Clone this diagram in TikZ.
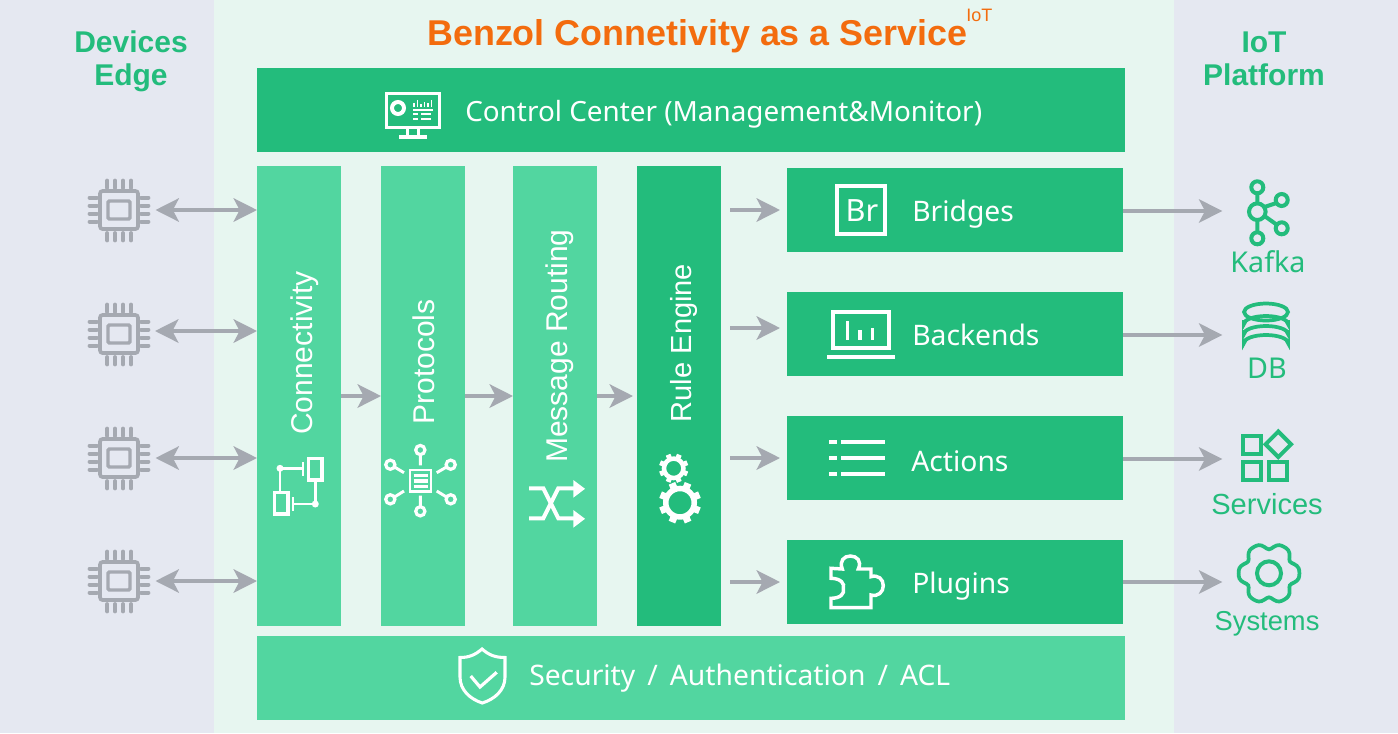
\documentclass[tikz,border=0pt]{standalone}
\usepackage{fontspec}
\setmainfont{Liberation Sans}
\newfontfamily\uifont{Noto Sans}
\usetikzlibrary{arrows.meta,calc}
\definecolor{bgside}{HTML}{E5E8F1}
\definecolor{bgmid}{HTML}{E7F6F0}
\definecolor{gdark}{HTML}{23BC7C}
\definecolor{glight}{HTML}{52D6A0}
\definecolor{garrow}{HTML}{A5A9B1}
\definecolor{orangetitle}{HTML}{F36C0E}
\newcommand{\fs}[1]{\fontsize{#1}{#1}\selectfont}
\newcommand{\gearicon}[6]{% x y outer hole-radius ring-width tooth-width
  \begin{scope}[shift={(#1,#2)}]
    \draw[white,line width=#5*0.75pt] (0,0) circle[radius=#4+#5/2];
    \foreach \a in {0,45,...,315}
      \draw[white,line width=#6*0.75pt] (\a+22.5:#4+#5-1) -- (\a+22.5:#3);
  \end{scope}}
\tikzset{
  x=0.75pt,y=-0.75pt,
  boxd/.style={fill=gdark,draw=none,inner sep=0,outer sep=0},
  boxl/.style={fill=glight,draw=none,inner sep=0,outer sep=0},
  flowarr/.style={draw=garrow,line width=3pt,-{Stealth[length=17.5pt,width=17.5pt,inset=4.5pt]}},
  duplexarr/.style={draw=garrow,line width=3pt,{Stealth[length=17.5pt,width=17.5pt,inset=4.5pt]}-{Stealth[length=17.5pt,width=17.5pt,inset=4.5pt]}},
  anchorbox/.style={inner sep=0,outer sep=0,draw=none},
  whitelabel/.style={text=white,inner sep=0,anchor=base west,font=\uifont\fs{21.2}},
  vlabel/.style={text=white,inner sep=0,rotate=90,font=\fs{22.5}},
  sidehead/.style={text=gdark,inner sep=0,anchor=base,font=\bfseries\fs{22.5}},
  sidelabel/.style={text=gdark,inner sep=0,anchor=base},
  ico/.style={draw=white,line width=2.6pt},
  icog/.style={draw=gdark,line width=3pt},
  chip/.pic={
    \draw[garrow,line width=2.8pt,rounded corners=2pt] (-19,-19) rectangle (19,19);
    \draw[garrow,line width=2.6pt,rounded corners=1pt] (-11,-9) rectangle (11,9);
    \foreach \p in {-11.7,-4,4,12}{
      \draw[garrow,line width=2.8pt,line cap=round] (\p,-29.5) -- (\p,-22);
      \draw[garrow,line width=2.8pt,line cap=round] (\p,23) -- (\p,30.5);
    }
    \foreach \p in {-12.3,-4.3,3.7,11.7}{
      \draw[garrow,line width=2.8pt,line cap=round] (-29.5,\p) -- (-22,\p);
      \draw[garrow,line width=2.8pt,line cap=round] (22,\p) -- (29.5,\p);
    }
  }
}
\begin{document}
\begin{tikzpicture}
\useasboundingbox (0,0) rectangle (1398,733);
\fill[bgside] (0,0) rectangle (1398,733);
\fill[bgmid] (214,0) rectangle (1174,733);

% boxes
\node[boxd,minimum width=0.75*868pt,minimum height=0.75*84pt] (cc) at (691,110) {};
\node[boxl,minimum width=0.75*868pt,minimum height=0.75*84pt] (sec) at (691,678) {};
\node[boxl,minimum width=0.75*84pt,minimum height=0.75*460pt] (conn) at (299,396) {};
\node[boxl,minimum width=0.75*84pt,minimum height=0.75*460pt] (prot) at (423,396) {};
\node[boxl,minimum width=0.75*84pt,minimum height=0.75*460pt] (rout) at (555,396) {};
\node[boxd,minimum width=0.75*84pt,minimum height=0.75*460pt] (rule) at (679,396) {};
\node[boxd,minimum width=0.75*336pt,minimum height=0.75*84pt] (br) at (955,210) {};
\node[boxd,minimum width=0.75*336pt,minimum height=0.75*84pt] (be) at (955,334) {};
\node[boxd,minimum width=0.75*336pt,minimum height=0.75*84pt] (ac) at (955,458) {};
\node[boxd,minimum width=0.75*336pt,minimum height=0.75*84pt] (pl) at (955,582) {};

% title and heads
\node[text=orangetitle,inner sep=0,anchor=base west,font=\bfseries\fs{26.9}] (title) at (427,45) {Benzol Connetivity as a Service};
\node[text=orangetitle,inner sep=0,anchor=base west,font=\fs{13.5}] (titlesup) at (966,21) {IoT};
\node[sidehead] (devhead) at (131,52) {Devices};
\node[sidehead] (edgehead) at (131,85.5) {Edge};
\node[sidehead] (iothead) at (1264,52) {IoT};
\node[sidehead] (plathead) at (1264,85.5) {Platform};

% white labels
\node[whitelabel,font=\uifont\fs{20.9}] (cctext) at (465,121) {Control Center (Management\&Monitor)};
\node[whitelabel] (sectext) at (529,685.5) {Security\hspace{3.5pt} / \hspace{3.5pt}Authentication\hspace{3.5pt} / \hspace{3.5pt}ACL};
\node[whitelabel] (brtext) at (912,221) {Bridges};
\node[whitelabel] (betext) at (912,345) {Backends};
\node[whitelabel] (actext) at (911,471) {Actions};
\node[whitelabel] (pltext) at (912,593) {Plugins};
\node[vlabel] (conntext) at (305,353) {Connectivity};
\node[vlabel] (prottext) at (424,362) {Protocols};
\node[vlabel] (routtext) at (560,346) {Message Routing};
\node[vlabel,font=\fs{21.8}] (ruletext) at (684,343) {Rule Engine};

% right labels
\node[sidelabel,font=\uifont\fs{21.5}] (kafka) at (1268,272) {Kafka};
\node[sidelabel,font=\uifont\fs{21.5}] (db) at (1267,378) {DB};
\node[sidelabel,font=\fs{21.8}] (serv) at (1267,514) {Services};
\node[sidelabel,font=\fs{20.5}] (syst) at (1267,630) {Systems};

% chips
\node[anchorbox,minimum width=0.75*73pt,minimum height=0.75*62pt] (chipa) at (119,210) {};
\node[anchorbox,minimum width=0.75*73pt,minimum height=0.75*62pt] (chipb) at (119,334) {};
\node[anchorbox,minimum width=0.75*73pt,minimum height=0.75*62pt] (chipc) at (119,458) {};
\node[anchorbox,minimum width=0.75*73pt,minimum height=0.75*62pt] (chipd) at (119,581) {};
\pic at (chipa) {chip};
\pic at (chipb) {chip};
\pic at (chipc) {chip};
\pic at (chipd) {chip};

% duplex connectors
\coordinate (chipbout) at (155,331);
\draw[duplexarr] (chipa.east) -- (chipa.east -| conn.west);
\draw[duplexarr] (chipbout) -- (chipbout -| conn.west);
\draw[duplexarr] (chipc.east) -- (chipc.east -| conn.west);
\draw[duplexarr] (chipd.east) -- (chipd.east -| conn.west);

% flow connectors
\draw[flowarr] (conn.east) -- (prot.west);
\draw[flowarr] (prot.east) -- (rout.west);
\coordinate (rulein) at (633,396);
\draw[flowarr] (rout.east) -- (rulein);
\foreach \y/\n in {210/a,328/b,458/c,582/d}{
  \coordinate (rs\n) at (730,\y);
  \coordinate (re\n) at (780,\y);
  \draw[flowarr] (rs\n) -- (re\n);
}
\node[anchorbox,minimum width=1pt,minimum height=1pt] (kafkaico) at (1223,211) {};
\node[anchorbox,minimum width=1pt,minimum height=1pt] (dbico) at (1223,335) {};
\node[anchorbox,minimum width=1pt,minimum height=1pt] (servico) at (1223,459) {};
\node[anchorbox,minimum width=1pt,minimum height=1pt] (systico) at (1223,582) {};
\draw[flowarr] (br.east |- kafkaico) -- (kafkaico);
\draw[flowarr] (be.east |- dbico) -- (dbico);
\draw[flowarr] (ac.east |- servico) -- (servico);
\draw[flowarr] (pl.east |- systico) -- (systico);

% monitor icon
\draw[ico,line width=2.4pt] (386.5,93.5) rectangle (439.5,127.5);
\draw[white,line width=2.4pt] (407.5,129) -- (407.5,135) (418.5,129) -- (418.5,135);
\fill[white] (399,134.7) rectangle (427,138.7);
\draw[white,line width=3pt] (398,108) circle[radius=6];
\foreach \x/\h in {414/4,417.5/7,421/3,424.5/5,428/4,431.5/7}
  \draw[white,line width=.8pt] (\x,107) -- (\x,107-\h);
\draw[white,line width=.9pt] (413,110) -- (433,110);
\draw[white,line width=.9pt] (413,114) -- (418,114) (421,114) -- (431,114) (413,119) -- (418,119) (421,119) -- (431,119);

% connectivity icon
\draw[ico] (308.7,458.7) rectangle (322,480);
\draw[ico] (274.7,492.7) rectangle (288,514);
\fill[white] (280,468.3) circle[radius=3.5] (315.3,504) circle[radius=3.5];
\draw[white,line width=2.2pt] (280,468.3) -- (303,468.3) (280,468.3) -- (280,491) (315.3,504) -- (315.3,481) (315.3,504) -- (293,504);
\draw[white,line width=2.2pt] (303,462) -- (303,476) (293,497) -- (293,511);

% protocols icon
\draw[white,line width=1.9pt] (410,470) rectangle (431,491.5);
\draw[white,line width=2.7pt] (413.5,475.3) -- (427.5,475.3) (413.5,480.7) -- (427.5,480.7) (413.5,486.3) -- (427.5,486.3);
\foreach \x/\y in {420.3/450,420.3/511.3,390.3/464.7,450.7/464.7,390.3/499.3,450.7/499.3}
  \draw[white,line width=2.4pt] (\x,\y) circle[radius=4.6];
\draw[white,line width=2.2pt] (420.3,455) -- (420.3,465.3) (420.3,495.7) -- (420.3,506)
  (395,467.3) -- (404,472.7) (446,467.3) -- (436.7,472.7) (395,496.7) -- (404,491) (446,496.7) -- (436.7,491);

% shuffle icon
\draw[white,line width=3pt] (529,488.3) -- (543.3,488.3) -- (558.3,518.3) -- (574,518.3);
\draw[white,line width=3pt] (529,518.3) -- (543.3,518.3) -- (558.3,488.3) -- (574,488.3);
\fill[white] (573.3,480) -- (585,488.8) -- (573.3,497.7) -- cycle;
\fill[white] (573.3,510) -- (585,518.8) -- (573.3,527.7) -- cycle;

% gears
\gearicon{673.7}{468.3}{14.7}{7.5}{4.5}{5}
\gearicon{680}{502.7}{21}{11.5}{5.5}{7}

% bridges icon
\draw[ico,line width=3pt] (837,186) rectangle (885,234);
\node[text=white,inner sep=0,anchor=base,font=\uifont\fs{23}] (brico) at (862,221) {Br};

% backends icon
\draw[ico,line width=3pt] (833,312) rectangle (889,348);
\draw[white,line width=2.6pt] (847.7,321) -- (847.7,340) (860,330) -- (860,340) (872.7,328.3) -- (872.7,340);
\fill[white] (827,354.7) rectangle (895,358.7);

% actions icon
\foreach \y in {442,458,474}{
  \fill[white] (829,\y-2) rectangle (837,\y+2);
  \fill[white] (841,\y-2) rectangle (885,\y+2);
}

% plugin icon
\draw[ico,line width=2.6pt,line join=miter]
  (831,568.3) -- (831,578.3)
  .. controls (841,578.3) and (845,584) .. (843.3,588.3)
  .. controls (845,594) and (840,598.3) .. (831,598.3)
  -- (831,607.7) -- (871,607.7) -- (871,595)
  .. controls (878,597) and (883.3,592) .. (883.3,585.7)
  .. controls (883.3,579) and (878,574.5) .. (871,576.7)
  -- (871,569) -- (858.3,569)
  .. controls (862,561) and (857,556) .. (850.3,556)
  .. controls (844,556) and (839,561) .. (842.3,569)
  -- cycle;

% shield icon
\draw[ico,line width=2.3pt,line join=miter]
  (482,649) .. controls (475,655) and (469,657.5) .. (460,657.5)
  -- (460,677) .. controls (460,690) and (470,699) .. (482.3,703)
  .. controls (495,699) and (505,690) .. (505,677)
  -- (505,657.5) .. controls (495,657.5) and (489,655) .. (482,649) -- cycle;
\draw[white,line width=2.4pt] (470.7,676) -- (480,687) -- (496.7,672.3);

% kafka icon
\draw[icog] (1257.3,211.7) circle[radius=8.3]
  (1257.3,187.3) circle[radius=6] (1257.3,238.3) circle[radius=6]
  (1281.7,200) circle[radius=6] (1281.7,228.3) circle[radius=6];
\draw[icog] (1257.3,193.3) -- (1257.3,203.4) (1257.3,220) -- (1257.3,232.3)
  (1264.5,207) -- (1276.5,203) (1264.5,216) -- (1276.5,224.5);

% db icon
\draw[icog,line width=2.8pt] (1266,312) ellipse[x radius=22,y radius=8.5];
\foreach \c in {324,334,343}{
  \draw[icog,line width=2.8pt] (1244,\c-4) -- (1244,\c) arc[start angle=180,end angle=360,x radius=22,y radius=8] -- (1288,\c-4);
}

% services icon
\draw[icog] (1243,436) rectangle (1261,453.7)
  (1243,462) rectangle (1261,480) (1269,462) rectangle (1287,480);
\draw[icog] (1278.3,431.5) -- (1291,444.3) -- (1278.3,457) -- (1265.6,444.3) -- cycle;

% systems icon
\begin{scope}[shift={(1269,573.3)}]
  \draw[icog] (0,0) circle[radius=12];
  \draw[icog,line width=2.8pt] plot[smooth cycle,samples=72,domain=0:355] (\x:{28+3.2*cos(6*\x)-0.8*cos(12*\x)});
\end{scope}
\end{tikzpicture}
\end{document}
